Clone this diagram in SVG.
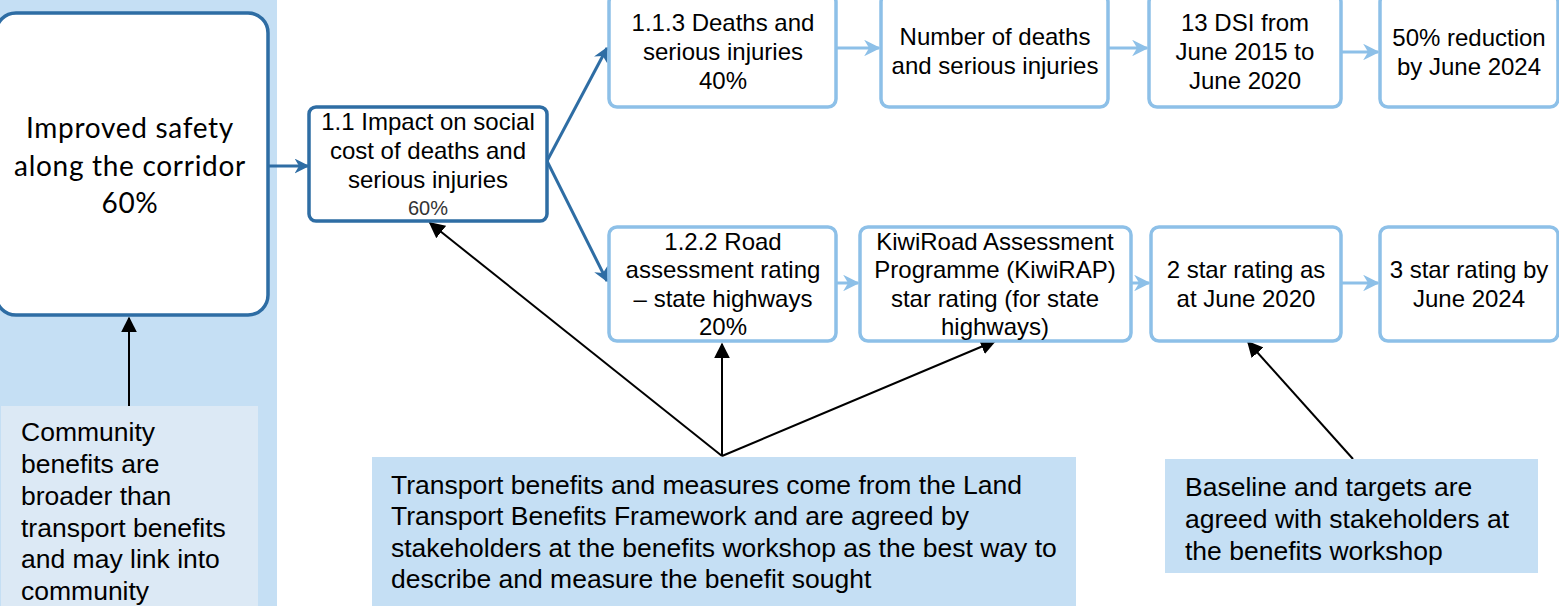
<svg xmlns="http://www.w3.org/2000/svg" width="1559" height="606" viewBox="0 0 1559 606">
<style>
text{font-family:"Liberation Sans",Arial,sans-serif;fill:#000;}
.t20{font-size:24px;text-anchor:middle;}
.t22{font-size:26.5px;}
.dark{fill:#fff;stroke:#2e6da4;stroke-width:3.5;}
.light{fill:#fff;stroke:#8dc0e8;stroke-width:3.5;}
.cd{stroke:#2e6da4;stroke-width:3;fill:none;}
.cl{stroke:#8dc0e8;stroke-width:3;fill:none;}
.cb{stroke:#000;stroke-width:2;fill:none;}
</style>
<defs>
<marker id="ad" viewBox="0 0 10 10" refX="9" refY="5" markerWidth="5" markerHeight="5" orient="auto" markerUnits="strokeWidth"><path d="M0,0 L10,5 L0,10 L3,5 z" fill="#2e6da4"/></marker>
<marker id="al" viewBox="0 0 10 10" refX="9" refY="5" markerWidth="5.5" markerHeight="5.5" orient="auto" markerUnits="strokeWidth"><path d="M0,0 L10,5 L0,10 L3,5 z" fill="#8dc0e8"/></marker>
<marker id="ab" viewBox="0 0 10 10" refX="9" refY="5" markerWidth="8" markerHeight="8" orient="auto" markerUnits="strokeWidth"><path d="M0,0 L10,5 L0,10 z" fill="#000"/></marker>
</defs>
<rect x="0" y="0" width="277" height="606" fill="#c5dff4"/>
<g id="connectors">
<line class="cd" x1="268" y1="166" x2="308" y2="166" marker-end="url(#ad)"/>
<line class="cd" x1="547" y1="161" x2="607" y2="48" marker-end="url(#ad)"/>
<line class="cd" x1="547" y1="161" x2="607" y2="281" marker-end="url(#ad)"/>
<line class="cl" x1="836" y1="48" x2="879" y2="48" marker-end="url(#al)"/>
<line class="cl" x1="1108" y1="48" x2="1147" y2="48" marker-end="url(#al)"/>
<line class="cl" x1="1341" y1="52" x2="1378" y2="52" marker-end="url(#al)"/>
<line class="cl" x1="836" y1="283" x2="858" y2="283" marker-end="url(#al)"/>
<line class="cl" x1="1131" y1="283" x2="1149" y2="283" marker-end="url(#al)"/>
<line class="cl" x1="1341" y1="283" x2="1378" y2="283" marker-end="url(#al)"/>
<line class="cb" x1="129" y1="406" x2="129" y2="318" marker-end="url(#ab)"/>
<line class="cb" x1="722" y1="456" x2="430" y2="223" marker-end="url(#ab)"/>
<line class="cb" x1="722" y1="456" x2="722" y2="344" marker-end="url(#ab)"/>
<line class="cb" x1="722" y1="456" x2="995" y2="341" marker-end="url(#ab)"/>
<line class="cb" x1="1353" y1="459" x2="1248" y2="342" marker-end="url(#ab)"/>
</g>
<g id="main">
<rect class="dark" x="-4" y="13" width="272" height="302" rx="20" stroke-width="4"/>
<text style="font-family:Lato,'Liberation Sans',sans-serif;font-size:28px;letter-spacing:0.7px;text-anchor:middle"><tspan x="130" y="138">Improved safety</tspan><tspan x="130" y="176">along the corridor</tspan><tspan x="130" y="213">60%</tspan></text>
</g>
<g id="community">
<rect x="1" y="406" width="257" height="200" fill="#dce9f5"/>
<text class="t22"><tspan x="21" y="441">Community</tspan><tspan x="21" y="473">benefits are</tspan><tspan x="21" y="505">broader than</tspan><tspan x="21" y="537">transport benefits</tspan><tspan x="21" y="568">and may link into</tspan><tspan x="21" y="600">community</tspan></text>
</g>
<g id="n11">
<rect class="dark" x="309" y="107" width="238" height="114" rx="7"/>
<text class="t20"><tspan x="428" y="130">1.1 Impact on social</tspan><tspan x="428" y="159">cost of deaths and</tspan><tspan x="428" y="188">serious injuries</tspan></text>
<text x="428" y="215" style="font-size:20px;text-anchor:middle;fill:#333">60%</text>
</g>
<g id="n113">
<rect class="light" x="609" y="-6" width="227" height="113" rx="8"/>
<text class="t20"><tspan x="723" y="31">1.1.3 Deaths and</tspan><tspan x="723" y="60">serious injuries</tspan><tspan x="723" y="89">40%</tspan></text>
</g>
<g id="nnum">
<rect class="light" x="881" y="-6" width="227" height="113" rx="8"/>
<text class="t20"><tspan x="995" y="45">Number of deaths</tspan><tspan x="995" y="74">and serious injuries</tspan></text>
</g>
<g id="ndsi">
<rect class="light" x="1149" y="-6" width="192" height="113" rx="8"/>
<text class="t20"><tspan x="1245" y="31">13 DSI from</tspan><tspan x="1245" y="60">June 2015 to</tspan><tspan x="1245" y="89">June 2020</tspan></text>
</g>
<g id="n50">
<rect class="light" x="1380" y="-6" width="178" height="113" rx="8"/>
<text class="t20"><tspan x="1469" y="46">50% reduction</tspan><tspan x="1469" y="75">by June 2024</tspan></text>
</g>
<g id="n122">
<rect class="light" x="609" y="227" width="227" height="114" rx="8"/>
<text class="t20"><tspan x="723" y="250">1.2.2 Road</tspan><tspan x="723" y="278">assessment rating</tspan><tspan x="723" y="307">– state highways</tspan><tspan x="723" y="335">20%</tspan></text>
</g>
<g id="nkiwi">
<rect class="light" x="860" y="227" width="271" height="114" rx="8"/>
<text class="t20"><tspan x="995" y="250">KiwiRoad Assessment</tspan><tspan x="995" y="278">Programme (KiwiRAP)</tspan><tspan x="995" y="307">star rating (for state</tspan><tspan x="995" y="335">highways)</tspan></text>
</g>
<g id="n2star">
<rect class="light" x="1151" y="227" width="190" height="114" rx="8"/>
<text class="t20"><tspan x="1246" y="278">2 star rating as</tspan><tspan x="1246" y="307">at June 2020</tspan></text>
</g>
<g id="n3star">
<rect class="light" x="1380" y="227" width="178" height="114" rx="8"/>
<text class="t20"><tspan x="1469" y="278">3 star rating by</tspan><tspan x="1469" y="307">June 2024</tspan></text>
</g>
<g id="transport">
<rect x="372" y="457" width="704" height="149" fill="#c5dff4"/>
<text class="t22"><tspan x="391" y="494">Transport benefits and measures come from the Land</tspan><tspan x="391" y="525">Transport Benefits Framework and are agreed by</tspan><tspan x="391" y="557">stakeholders at the benefits workshop as the best way to</tspan><tspan x="391" y="588">describe and measure the benefit sought</tspan></text>
</g>
<g id="baseline">
<rect x="1165" y="459" width="373" height="114" fill="#c5dff4"/>
<text class="t22"><tspan x="1185" y="496">Baseline and targets are</tspan><tspan x="1185" y="528">agreed with stakeholders at</tspan><tspan x="1185" y="560">the benefits workshop</tspan></text>
</g>
</svg>
